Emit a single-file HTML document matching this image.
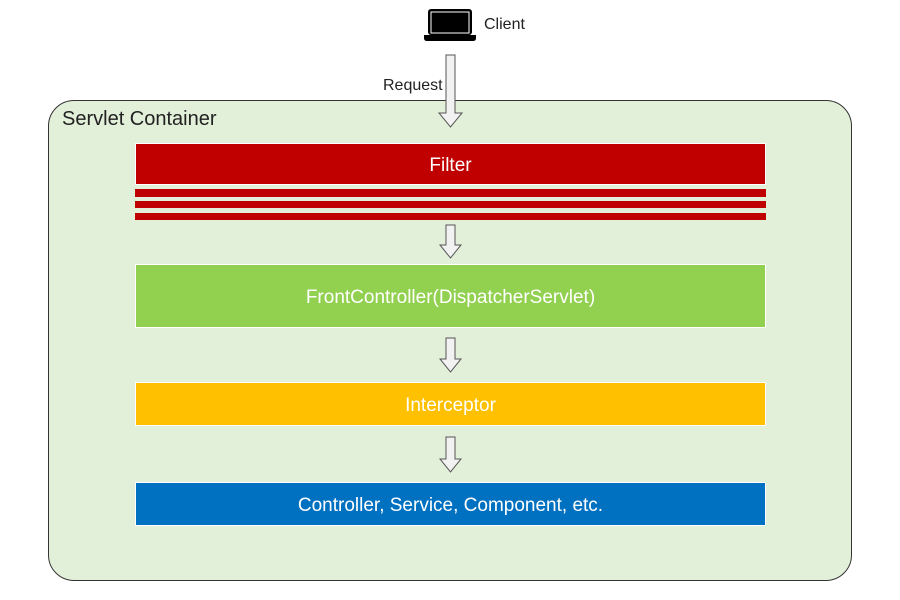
<!DOCTYPE html>
<html><head><style>
body{margin:0;width:900px;height:600px;background:#fff;position:relative;overflow:hidden;font-family:"Liberation Sans","NanumGothic",sans-serif}
.a{position:absolute}
.box{position:absolute;left:135px;width:631px;color:#fff;font-size:19px;display:flex;align-items:center;justify-content:center;box-sizing:border-box;border:1px solid #fff;padding-top:4px}
</style></head><body>
<div class="a" style="left:48px;top:100px;width:802px;height:479px;border:1.5px solid #333;border-radius:26px;background:#e2efd9"></div>
<div class="a" style="left:62px;top:108px;font-size:20px;color:#222">Servlet Container</div>
<div class="box" style="top:143px;height:42px;background:#c00000">Filter</div>
<div class="a" style="left:135px;top:189px;width:631px;height:8px;background:#c00000"></div>
<div class="a" style="left:135px;top:201px;width:631px;height:7px;background:#c00000"></div>
<div class="a" style="left:135px;top:213px;width:631px;height:7px;background:#c00000"></div>
<div class="box" style="top:264px;height:64px;background:#92d050">FrontController(DispatcherServlet)</div>
<div class="box" style="top:382px;height:44px;background:#ffc000">Interceptor</div>
<div class="box" style="top:482px;height:44px;background:#0070c0">Controller, Service, Component, etc.</div>
<div class="a" style="left:484px;top:16px;font-size:16px;color:#222">Client</div>
<div class="a" style="left:383px;top:77px;font-size:16px;color:#222">Request</div>
<svg class="a" style="left:0;top:0" width="900" height="600">
<g fill="#000"><rect x="428" y="9" width="44" height="26" rx="3"/><rect x="431" y="12" width="38" height="21" fill="#000" stroke="#fff" stroke-width="1"/><path d="M424 35h52v3q0 3-3 3h-46q-3 0-3-3z"/></g>
<g fill="#f2f2f2" stroke="#555" stroke-width="1">
<path d="M446 55h9v58h7l-11.5 14l-11.5-14h7z"/>
<path d="M446 225h9v20h6l-10.5 13l-10.5-13h6z"/>
<path d="M446 338h9v21h6l-10.5 13l-10.5-13h6z"/>
<path d="M446 437h9v22h6l-10.5 13l-10.5-13h6z"/>
</g></svg>
</body></html>
